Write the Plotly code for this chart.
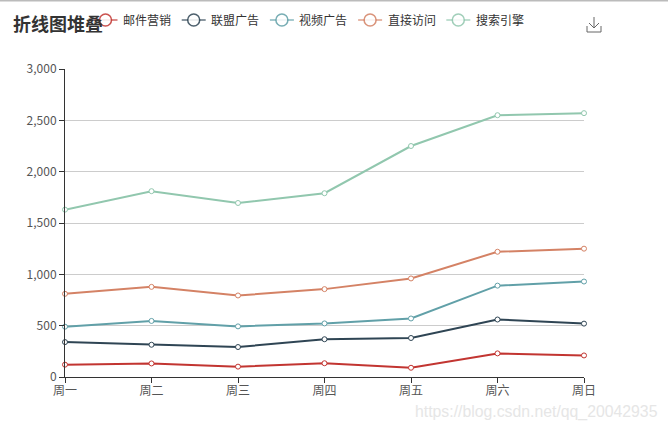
import plotly.graph_objects as go

days = ["周一", "周二", "周三", "周四", "周五", "周六", "周日"]
email = [120, 132, 101, 134, 90, 230, 210]
union = [220, 182, 191, 234, 290, 330, 310]
video = [150, 232, 201, 154, 190, 330, 410]
direct = [320, 332, 301, 334, 390, 330, 320]
search = [820, 932, 901, 934, 1290, 1330, 1320]
names = ["邮件营销", "联盟广告", "视频广告", "直接访问", "搜索引擎"]
series = [email, union, video, direct, search]
colors = ["#c23531", "#2f4554", "#61a0a8", "#d48265", "#91c7ae"]
y_ticks = [0, 500, 1000, 1500, 2000, 2500, 3000]
FONT = "Noto Sans CJK SC, Microsoft YaHei, sans-serif"

def px(x):
    return (x - 65) / 519

def py(y):
    return (377 - y) / 308

fig = go.Figure()
for name, vals, c in zip(names, series, colors):
    fig.add_trace(go.Scatter(
        x=days, y=vals, name=name, stackgroup="s", fill="none", mode="lines+markers",
        line=dict(color=c, width=2), showlegend=False, cliponaxis=False,
        marker=dict(size=5, color="white", line=dict(color=c, width=1)),
    ))

shapes = [
    dict(type="line", xref="paper", yref="paper", x0=px(0), x1=px(668), y0=py(0.5), y1=py(0.5),
         line=dict(color="#bbb", width=2)),
    dict(type="path", xref="paper", yref="paper",
         path=f"M {px(587)} {py(26)} L {px(587)} {py(32)} L {px(601)} {py(32)} L {px(601)} {py(26)}"
              f" M {px(594)} {py(17)} L {px(594)} {py(28)}"
              f" M {px(589)} {py(23)} L {px(594)} {py(28)} L {px(599)} {py(23)}",
         line=dict(color="#666", width=1)),
]
annotations = [
    dict(text="https://blog.csdn.net/qq_20042935", xref="paper", yref="paper",
         x=px(660), xanchor="right", y=py(412), yanchor="middle", showarrow=False,
         font=dict(family="Liberation Sans, Arial", size=15.8, color="#e6e6e6")),
]
# legend row, drawn by hand because the native one cannot reach this spacing
for i, (name, c) in enumerate(zip(names, colors)):
    cx = 105.5 + i * 88.2
    shapes.append(dict(type="line", xref="paper", yref="paper", x0=px(cx - 12), x1=px(cx + 12),
                       y0=py(20), y1=py(20), line=dict(color=c, width=1.5), opacity=0.75))
    shapes.append(dict(type="circle", xref="paper", yref="paper", x0=px(cx - 6), x1=px(cx + 6),
                       y0=py(26), y1=py(14), fillcolor="white", line=dict(color=c, width=1.5),
                       opacity=0.85))
    annotations.append(dict(text=name, xref="paper", yref="paper", x=px(cx + 17.5), xanchor="left",
                            y=py(20), yanchor="middle", showarrow=False, xshift=0,
                            borderpad=0, borderwidth=0,
                            font=dict(size=12, color="#333", family=FONT)))

fig.update_layout(
    width=668, height=430,
    margin=dict(l=65, r=84, t=69, b=53),
    autosize=False,
    showlegend=False,
    paper_bgcolor="white", plot_bgcolor="white",
    font=dict(family=FONT, size=12, color="#333"),
    title=dict(text="<b>折线图堆叠</b>", x=13/668, xanchor="left", y=1-25/430, yanchor="middle",
               font=dict(size=18, color="#333", family=FONT)),
    xaxis=dict(type="category", range=[0, 6], showgrid=False, zeroline=False,
               showline=True, linecolor="#333", linewidth=1, ticks="outside", ticklen=5,
               tickcolor="#333", tickfont=dict(size=12, color="#555"), ticklabelstandoff=-2),
    yaxis=dict(range=[0, 3000], tickvals=y_ticks, tickformat=",", showgrid=True, gridcolor="#ccc",
               gridwidth=1, zeroline=False, showline=True, linecolor="#333", linewidth=1,
               ticks="outside", ticklen=5, tickcolor="#333",
               tickfont=dict(size=12, color="#555")),
    hovermode=False,
    shapes=shapes,
    annotations=annotations,
)
fig.write_html("out.html", post_script="document.body.style.margin='0';",
               config=dict(displayModeBar=False))
